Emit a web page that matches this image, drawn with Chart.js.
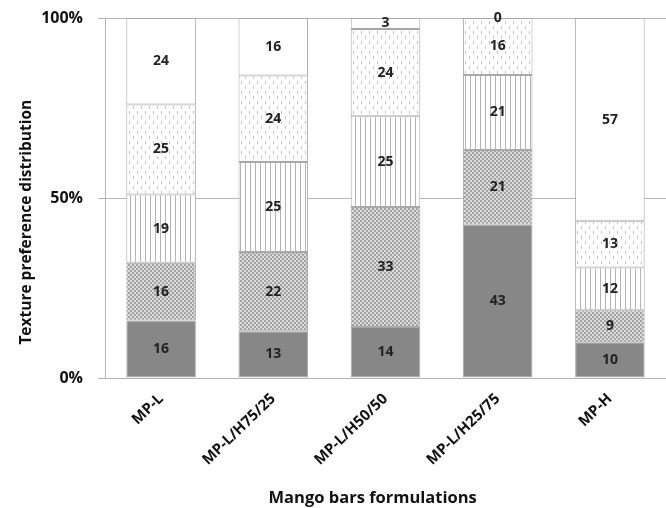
<!DOCTYPE html>
<html>
<head>
<meta charset="utf-8">
<script src="https://cdn.jsdelivr.net/npm/chart.js@4.4.1/dist/chart.umd.min.js"></script>
<style>
  html, body { margin: 0; padding: 0; background: #fff; overflow: hidden; }
  #wrap { width: 666px; height: 508px; }
</style>
</head>
<body>
<div id="wrap"><canvas id="chartBars" width="666" height="508"></canvas></div>
<script>
// categories and series (texture preference counts)
const categories = ['MP-L', 'MP-L/H75/25', 'MP-L/H50/50', 'MP-L/H25/75', 'MP-H']
const seriesA = [16, 13, 14, 43, 10]   // solid dark
const seriesB = [16, 22, 33, 21, 9]    // crosshatch
const seriesC = [19, 25, 25, 21, 12]   // vertical lines
const seriesD = [25, 24, 24, 16, 13]   // dotted
const seriesE = [24, 16, 3, 0, 57]     // white
const yTicks = [0, 50, 100]

const font = '"Open Sans", "Liberation Sans", sans-serif'

// patterns
function makePattern(w, h, draw) {
    const c = document.createElement('canvas')
    c.width = w; c.height = h
    const x = c.getContext('2d')
    x.fillStyle = '#fff'
    x.fillRect(0, 0, w, h)
    draw(x)
    return x.createPattern(c, 'repeat')
}
const pSolid = '#878787'
const pCross = makePattern(4, 4, x => {
    x.fillStyle = '#dadada'; x.fillRect(0, 0, 4, 4)
    x.fillStyle = '#a4a4a4'
    x.fillRect(0, 0, 2, 2); x.fillRect(2, 2, 2, 2)
})
const pVert = makePattern(5, 4, x => {
    x.fillStyle = '#b4b4b4'; x.fillRect(0, 0, 1, 4)
})
const pDots = makePattern(8, 10, x => {
    x.fillStyle = '#c4c4c4'
    x.fillRect(1, 1, 1, 3); x.fillRect(5, 6, 1, 3)
})
const pWhite = '#ffffff'

const raw = [seriesA, seriesB, seriesC, seriesD, seriesE]
const fills = [pSolid, pCross, pVert, pDots, pWhite]
const totals = categories.map((c, i) => raw.reduce((s, a) => s + a[i], 0))

const datasets = raw.map((arr, k) => ({
    data: arr.map((v, i) => v / totals[i] * 100),
    raw: arr,
    backgroundColor: fills[k],
    borderColor: '#a8a8a8',
    borderWidth: 1,
    borderSkipped: false,
    categoryPercentage: 1,
    barPercentage: 0.62
}))

// numbers in the middle of each segment
const segLabels = {
    id: 'segLabels',
    afterDatasetsDraw(chart) {
        const ctx = chart.ctx
        ctx.save()
        ctx.font = '700 14px ' + font
        ctx.fillStyle = '#222'
        ctx.textAlign = 'center'
        ctx.textBaseline = 'middle'
        chart.data.datasets.forEach((ds, k) => {
            chart.getDatasetMeta(k).data.forEach((bar, i) => {
                const y = (bar.y + bar.base) / 2
                ctx.fillText(String(ds.raw[i]), bar.x, y)
            })
        })
        ctx.restore()
    }
}

new Chart(document.getElementById('chartBars'), {
    type: 'bar',
    data: { labels: categories, datasets },
    options: {
        responsive: false,
        animation: false,
        layout: { padding: { top: 18, right: 0, left: 4, bottom: 0 } },
        plugins: { legend: { display: false }, tooltip: { enabled: false } },
        scales: {
            x: {
                stacked: true,
                afterFit: axis => { axis.height = 130 },
                grid: { display: false },
                border: { display: false },
                ticks: {
                    minRotation: 44, maxRotation: 44,
                    color: '#111',
                    font: { family: font, size: 15, weight: '700' },
                    padding: 4
                },
                title: {
                    display: true, text: 'Mango bars formulations      ',
                    color: '#111',
                    font: { family: font, size: 16.5, weight: '700' },
                    padding: { top: 4, bottom: 0 }
                }
            },
            y: {
                stacked: true,
                min: 0, max: 100,
                afterFit: axis => { axis.width = 101; axis.paddingTop = 0; axis.paddingBottom = 0 },
                afterBuildTicks: axis => { axis.ticks = yTicks.map(v => ({ value: v })) },
                grid: { color: '#b5b5b5', tickLength: 7, lineWidth: 1 },
                border: { display: true, color: '#b5b5b5' },
                ticks: {
                    callback: v => v + '%',
                    color: '#111',
                    font: { family: font, size: 16, weight: '700' },
                    padding: 15
                },
                title: {
                    display: true, text: 'Texture preference distribution            ',
                    color: '#111',
                    font: { family: font, size: 15.5, weight: '700' },
                    padding: { top: 13, bottom: 0 }
                }
            }
        }
    },
    plugins: [segLabels]
})
</script>
</body>
</html>
